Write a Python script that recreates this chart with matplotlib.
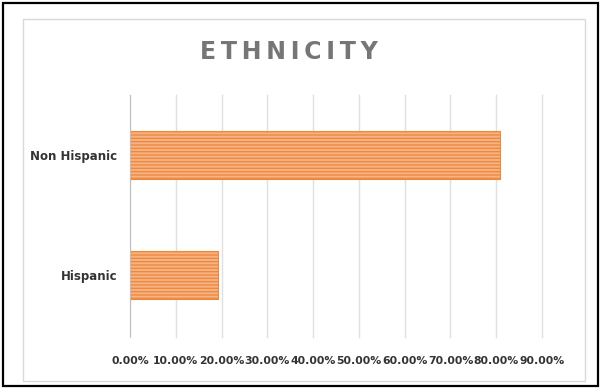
import matplotlib.pyplot as plt
from matplotlib.patches import Rectangle
from matplotlib.ticker import FuncFormatter

# data
categories = ['Hispanic', 'Non Hispanic']
shares = [0.192, 0.808]
ticks = [i / 10 for i in range(10)]

W, H = 600, 389
fig = plt.figure(figsize=(W / 100, H / 100), dpi=100)

# outer black frame and inner light gray chart frame
fig.patches.append(Rectangle((3 / W, 3 / H), 595 / W, 383 / H, transform=fig.transFigure,
                             fill=False, edgecolor='black', linewidth=1.6))
fig.patches.append(Rectangle((23 / W, 8 / H), 562 / W, 362 / H, transform=fig.transFigure,
                             fill=False, edgecolor='#d9d9d9', linewidth=1.0))

ax = fig.add_axes([130 / W, 1 - 337 / H, 412 / W, 242 / H])

plt.rcParams['hatch.linewidth'] = 1.0
plt.rcParams['hatch.color'] = '#f0883c'
ax.barh(categories, shares, height=0.4, color='#f5b487', edgecolor='#f0883c',
        linewidth=0.8, hatch='-----', zorder=3)

ax.set_xlim(0, 0.9)
ax.set_ylim(-0.52, 1.5)
ax.set_xticks(ticks)
ax.xaxis.set_major_formatter(FuncFormatter(lambda v, p: f'{v * 100:.2f}%'))
ax.grid(axis='x', color='#e0e0e0', linewidth=1.0, zorder=0)
for gl in ax.get_xgridlines():
    gl.set_clip_on(False)

for s in ax.spines.values():
    s.set_visible(False)
ax.axvline(0, color='#bfbfbf', linewidth=1.5, zorder=4)

ax.tick_params(axis='x', length=0, pad=14, labelsize=7.8, labelcolor='#333333')
ax.tick_params(axis='y', length=0, pad=9, labelsize=8.5, labelcolor='#333333')
for lab in ax.get_xticklabels() + ax.get_yticklabels():
    lab.set_fontweight('bold')

fig.text(289 / W, 1 - 52 / H, '\u2009'.join('ETHNICITY'), ha='center', va='center',
         fontsize=17, fontweight='bold', color='#767676')

fig.savefig('out.png', dpi=100)
